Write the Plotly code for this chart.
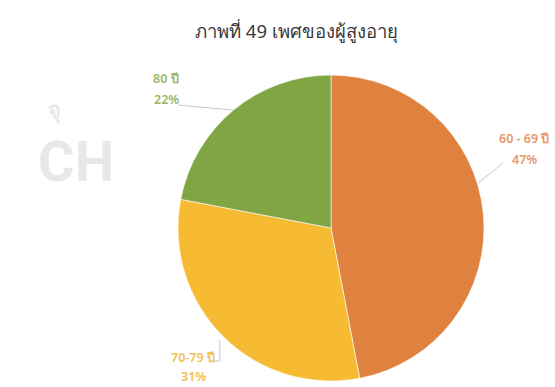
import math
import plotly.graph_objects as go

# ---- data ----
labels = ["60 - 69 ปี", "70-79 ปี", "80 ปี"]
values = [47, 31, 22]
pct_text = ["47%", "31%", "22%"]
colors = ["#E0823F", "#F6BB33", "#80A644"]
label_colors = ["#E8966A", "#F0C04F", "#9BB663"]
title_text = "ภาพที่ 49 เพศของผู้สูงอายุ"

W, H = 555, 387
cx, cy, R = 331, 228, 153  # pie centre / radius in pixels (layout)

def px(x):
    return x / W

def py(y):
    return 1 - y / H

fig = go.Figure()
fig.add_trace(go.Pie(
    labels=labels, values=values, sort=False, direction="clockwise", rotation=0,
    marker=dict(colors=colors, line=dict(color="white", width=0.6)),
    textinfo="none", hoverinfo="label+percent", showlegend=False,
    domain=dict(x=[px(cx - R), px(cx + R)], y=[py(cy + R), py(cy - R)]),
))

# label positions (layout, pixels): name line centre, pct line centre, leader start
label_pos = [
    dict(x=524, y1=138, y2=160, lx=503, ly=163),
    dict(x=193, y1=357, y2=376, lx=214, ly=361),
    dict(x=166, y1=78, y2=100, lx=178, ly=105),
]

shapes = []
annotations = []
total = sum(values)
cum = 0
for i, v in enumerate(values):
    mid = (cum + v / 2) / total * 2 * math.pi
    cum += v
    ex = cx + R * math.sin(mid)
    ey = cy - R * math.cos(mid)
    p = label_pos[i]
    if i == 0:
        ex = cx + R * math.sin(mid - 0.2)
        ey = cy - R * math.cos(mid - 0.2)
    if i == 1:
        shapes.append(dict(type="line", xref="paper", yref="paper",
                           x0=px(p["lx"]), y0=py(p["ly"]), x1=px(ex - 3), y1=py(p["ly"]),
                           line=dict(color="#C8C8C8", width=1)))
        shapes.append(dict(type="line", xref="paper", yref="paper",
                           x0=px(ex - 3), y0=py(p["ly"]), x1=px(ex - 3), y1=py(ey + 4),
                           line=dict(color="#C8C8C8", width=1)))
    else:
        shapes.append(dict(type="line", xref="paper", yref="paper",
                           x0=px(p["lx"]), y0=py(p["ly"]), x1=px(ex), y1=py(ey),
                           line=dict(color="#C8C8C8", width=1)))
    for txt, yy in ((labels[i], p["y1"]), (pct_text[i], p["y2"])):
        annotations.append(dict(text=txt, x=px(p["x"]), y=py(yy), xref="paper", yref="paper",
                                showarrow=False, xanchor="center", yanchor="middle",
                                font=dict(family="Noto Sans, Tahoma, sans-serif", size=12.5,
                                          weight=600, color=label_colors[i])))

# faint watermark letters
annotations.append(dict(text="<b>CH</b>", x=px(36), y=py(162), xref="paper", yref="paper",
                        showarrow=False,
                        font=dict(family="Liberation Sans Narrow, Roboto, sans-serif", size=56,
                                  color="#E8E8E8")))
annotations.append(dict(text="<b>จุ</b>", x=px(46), y=py(92), xref="paper", yref="paper",
                        showarrow=False, font=dict(family="Noto Sans, sans-serif", size=22, color="#E8E8E8")))
# title
annotations.append(dict(text=title_text, x=px(296), y=py(31), xref="paper", yref="paper",
                        showarrow=False, xanchor="center", yanchor="middle",
                        font=dict(family="Noto Sans, Tahoma, sans-serif", size=18.5, color="#3A3A3A")))

fig.update_layout(
    width=W, height=H, margin=dict(l=0, r=0, t=0, b=0),
    paper_bgcolor="white", plot_bgcolor="white",
    shapes=shapes, annotations=annotations,
)
fig.write_html("out.html")
